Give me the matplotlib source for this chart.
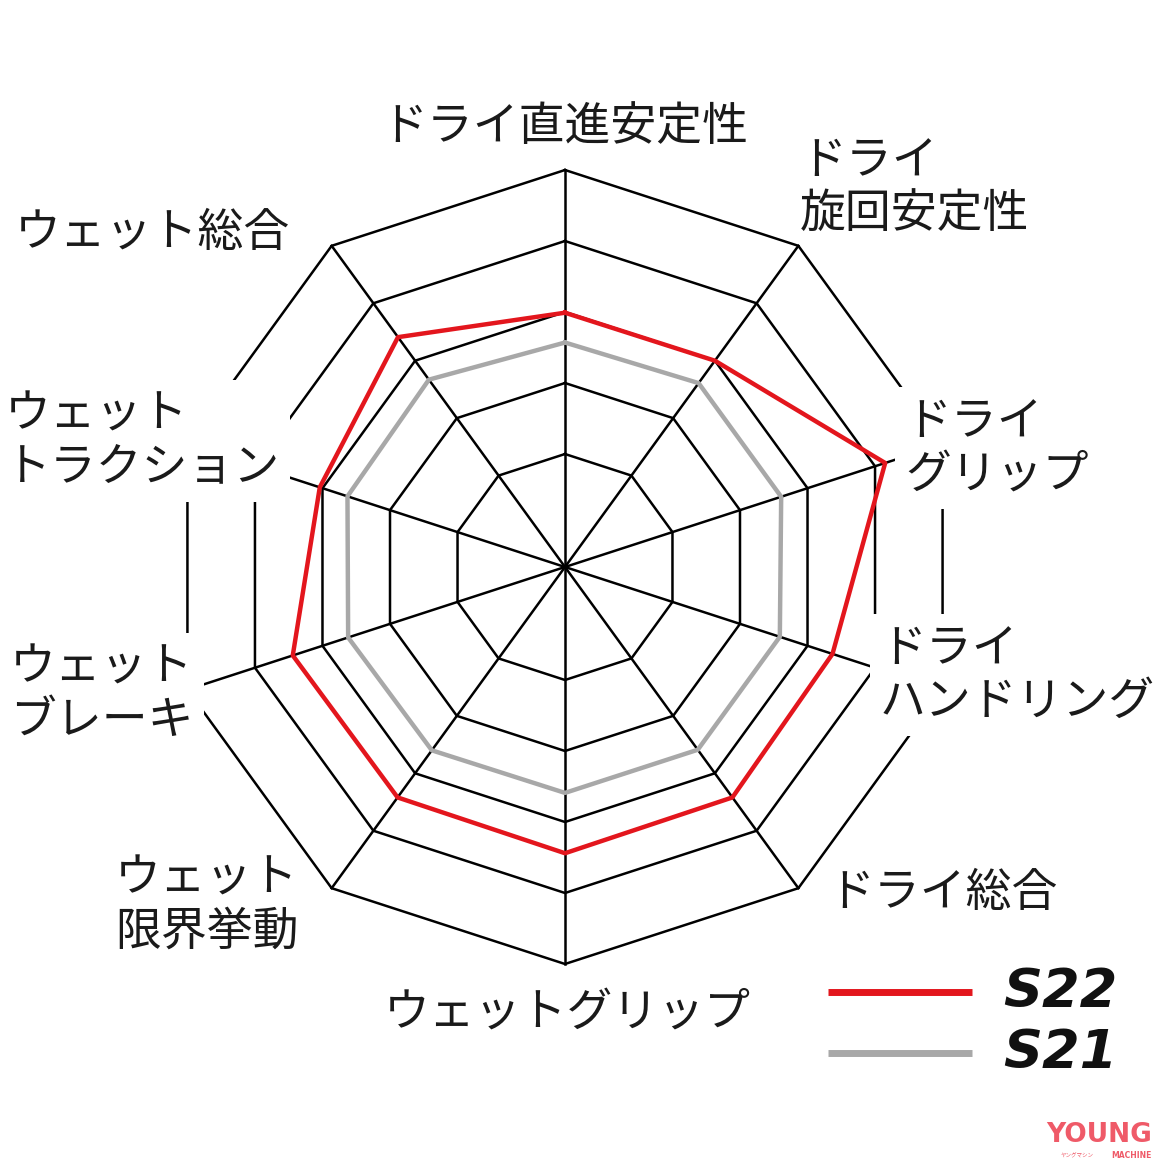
"""S22 / S21 タイヤ性能比較のレーダーチャート（10 項目）。"""

import numpy as np
import matplotlib

matplotlib.use("Agg")
import matplotlib.pyplot as plt
from matplotlib.lines import Line2D

W, H = 1166, 1166

# 項目（上から時計回り）
categories = [
    "ドライ直進安定性",
    "ドライ\n旋回安定性",
    "ドライ\nグリップ",
    "ドライ\nハンドリング",
    "ドライ総合",
    "ウェットグリップ",
    "ウェット\n限界挙動",
    "ウェット\nブレーキ",
    "ウェット\nトラクション",
    "ウェット総合",
]
s22 = [2.99, 3.0, 4.15, 3.37, 3.42, 3.44, 3.42, 3.44, 3.04, 3.41]
s21 = [2.57, 2.61, 2.61, 2.59, 2.59, 2.59, 2.6, 2.62, 2.63, 2.67]
ring_levels = [1, 2, 3, 4, 5]
series_names = ["S22", "S21"]

RED = "#e3161d"
GRAY = "#a8a8a8"
JP = ["Noto Sans CJK JP", "DejaVu Sans"]

# ラベル配置 (px): x, y(中心), ha, 白ボックスの有無
label_pos = [
    (565, 127, "center", False),
    (800, 187, "left", False),
    (905, 448, "left", True),
    (880, 675, "left", True),
    (828, 893, "left", False),
    (567, 1012, "center", False),
    (115, 905, "left", False),
    (10, 694, "left", True),
    (5, 441, "left", True),
    (15, 233, "left", False),
]


def fx(x):
    return x / W


def fy(y):
    return 1 - y / H


fig = plt.figure(figsize=(W / 100, H / 100), dpi=100)
fig.patch.set_facecolor("white")

cx, cy, R = 565, 567, 397
ax = fig.add_axes([fx(cx - R), fy(cy + R), 2 * R / W, 2 * R / H], projection="polar")
ax.set_theta_zero_location("N")
ax.set_theta_direction(-1)
# 中心は 0 ではなく -0.59（内側のリングが中心から離れている）
ax.set_rlim(-0.5915, ring_levels[-1])
ax.grid(False)
ax.set_xticks([])
ax.set_yticks([])
ax.spines["polar"].set_visible(False)
ax.patch.set_visible(False)

n = len(categories)
theta = np.deg2rad(np.arange(n) * 360 / n)
theta_c = np.append(theta, theta[0])

for lvl in ring_levels:
    ax.plot(theta_c, [lvl] * (n + 1), color="black", lw=1.8, zorder=1, clip_on=False)
for t in theta:
    ax.plot([t, t], [ax.get_rmin(), ring_levels[-1]], color="black", lw=1.8, zorder=1, clip_on=False)

ax.plot(theta_c, np.append(s21, s21[0]), color=GRAY, lw=3.2, zorder=2, clip_on=False)
ax.plot(theta_c, np.append(s22, s22[0]), color=RED, lw=3.2, zorder=3, clip_on=False)

for text, (x, y, ha, boxed) in zip(categories, label_pos):
    bbox = {"boxstyle": "square,pad=0.22", "fc": "white", "ec": "none"} if boxed else None
    fig.text(fx(x), fy(y), text, ha=ha, va="center", fontsize=33, family=JP,
             linespacing=1.12, color="#1a1a1a", bbox=bbox)

# 凡例
for name, color, y in zip(series_names, [RED, GRAY], [992, 1053]):
    fig.add_artist(Line2D([fx(828), fx(972)], [fy(y), fy(y)], color=color, lw=5,
                          solid_capstyle="butt", transform=fig.transFigure))
    fig.text(fx(1003), fy(y), name, ha="left", va="center", fontsize=39,
             family="DejaVu Sans", weight="heavy", style="italic", color="#111111")

# ロゴ
fig.text(fx(1152), fy(1142), "YOUNG", ha="right", va="baseline", fontsize=19,
         family="DejaVu Sans", weight="bold", color="#ef5a68")
fig.text(fx(1152), fy(1158), "MACHINE", ha="right", va="baseline", fontsize=5.5,
         family="DejaVu Sans", weight="bold", color="#ef5a68")
fig.text(fx(1094), fy(1158), "ヤングマシン", ha="right", va="baseline", fontsize=4,
         family=JP, color="#ef5a68")

fig.savefig("out.png", dpi=100, facecolor="white")
